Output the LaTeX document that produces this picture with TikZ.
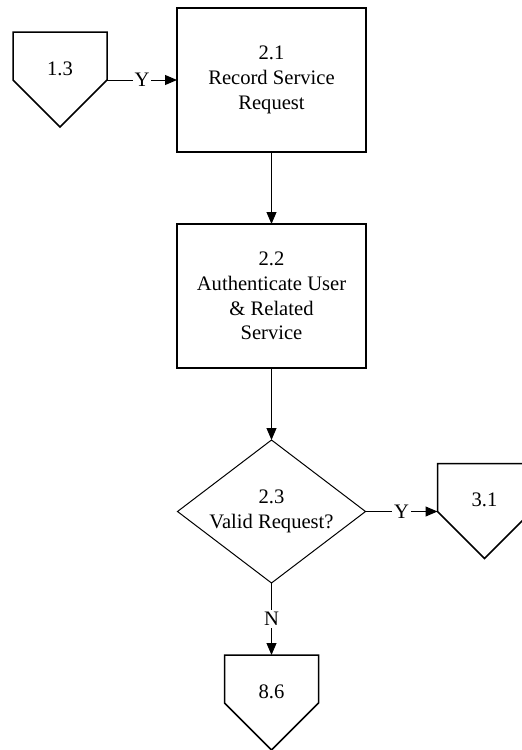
\documentclass[tikz,border=0pt]{standalone}
\usepackage{fontspec}
\setmainfont{Liberation Serif}
\usetikzlibrary{shapes.geometric, arrows.meta, positioning}

\begin{document}
\begin{tikzpicture}[x=0.5pt, y=-0.5pt, node distance=36pt, >={Triangle[length=6pt, width=5pt]}, font=\fontsize{10.3pt}{12.4pt}\selectfont]
    \tikzstyle{proc} = [rectangle, draw, line width=1pt, minimum width=94.5pt, minimum height=72pt, align=center, outer sep=0pt]
    \tikzstyle{decision} = [diamond, draw, line width=0.5pt, aspect=1.315, minimum width=94pt, minimum height=71.5pt, inner sep=0pt, align=center, outer sep=0pt]
    \tikzstyle{offpage} = [rectangle, minimum width=47pt, minimum height=24pt, inner sep=0pt, outer sep=0pt, text height=19pt, text depth=0pt]
    \tikzstyle{flow} = [->, line width=0.5pt]
    \tikzstyle{yn} = [fill=white, inner sep=1pt]

    \clip (0,0) rectangle (522,750);

    % Main column
    \node [proc] (rec) at (271.5,80) {2.1\\Record Service\\Request};
    \node [proc, below=of rec] (auth) {2.2\\Authenticate User\\\& Related\\Service};
    \node [decision, below=of auth] (valid) {2.3\\Valid Request?};

    % Off-page connectors
    \node [offpage, left=35pt of rec.west, anchor=south east] (in13) {1.3};
    \node [offpage, right=of valid.east, anchor=south west] (out31) {3.1};
    \node [offpage, below=of valid.south, anchor=north] (out86) {8.6};
    \foreach \n in {in13, out31, out86}
      \draw [line width=0.75pt] (\n.south west) |- (\n.north east) -- (\n.south east) -- ([yshift=-23.5pt]\n.south) -- cycle;

    % Connections
    \draw [flow] (in13.south east) -- node[yn]{Y} (rec.west);
    \draw [flow] (rec) -- (auth);
    \draw [flow] (auth) -- (valid);
    \draw [flow] (valid.east) -- node[yn]{Y} (out31.south west);
    \draw [flow] (valid.south) -- node[yn]{N} (out86.north);
\end{tikzpicture}
\end{document}
